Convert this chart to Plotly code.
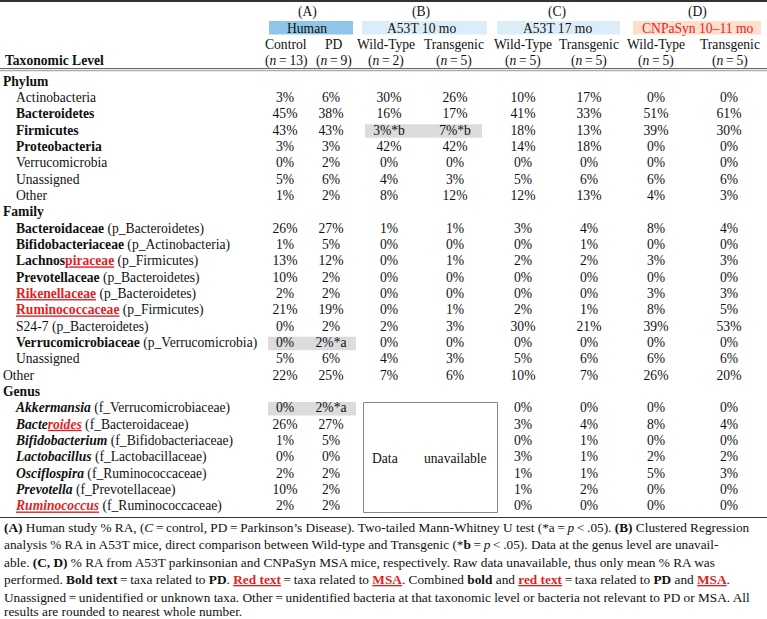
import plotly.graph_objects as go

# ---------------- data ----------------
group_tags = ["(A)", "(B)", "(C)", "(D)"]
group_names = ["Human", "A53T 10 mo", "A53T 17 mo", "CNPaSyn 10–11 mo"]
column_keys = ["control", "pd", "b_wt", "b_tg", "c_wt", "c_tg", "d_wt", "d_tg"]
column_names = ["Control", "PD", "Wild-Type", "Transgenic", "Wild-Type", "Transgenic", "Wild-Type", "Transgenic"]
column_n = [13, 9, 2, 5, 5, 5, 5, 5]

phylum_names = ["Actinobacteria", "Bacteroidetes", "Firmicutes", "Proteobacteria",
                "Verrucomicrobia", "Unassigned", "Other"]
phylum_control = [3, 45, 43, 3, 0, 5, 1]
phylum_pd = [6, 38, 43, 3, 2, 6, 2]
phylum_b_wt = [30, 16, 3, 42, 0, 4, 8]
phylum_b_tg = [26, 17, 7, 42, 0, 3, 12]
phylum_c_wt = [10, 41, 18, 14, 0, 5, 12]
phylum_c_tg = [17, 33, 13, 18, 0, 6, 13]
phylum_d_wt = [0, 51, 39, 0, 0, 6, 4]
phylum_d_tg = [0, 61, 30, 0, 0, 6, 3]

family_names = ["Bacteroidaceae", "Bifidobacteriaceae", "Lachnospiraceae", "Prevotellaceae",
                "Rikenellaceae", "Ruminococcaceae", "S24-7", "Verrucomicrobiaceae",
                "Unassigned", "Other"]
family_parents = ["p_Bacteroidetes", "p_Actinobacteria", "p_Firmicutes", "p_Bacteroidetes",
                  "p_Bacteroidetes", "p_Firmicutes", "p_Bacteroidetes", "p_Verrucomicrobia", "", ""]
family_control = [26, 1, 13, 10, 2, 21, 0, 0, 5, 22]
family_pd = [27, 5, 12, 2, 2, 19, 2, 2, 6, 25]
family_b_wt = [1, 0, 0, 0, 0, 0, 2, 0, 4, 7]
family_b_tg = [1, 0, 1, 0, 0, 1, 3, 0, 3, 6]
family_c_wt = [3, 0, 2, 0, 0, 2, 30, 0, 5, 10]
family_c_tg = [4, 1, 2, 0, 0, 1, 21, 0, 6, 7]
family_d_wt = [8, 0, 3, 0, 3, 8, 39, 0, 6, 26]
family_d_tg = [4, 0, 3, 0, 3, 5, 53, 0, 6, 20]

genus_names = ["Akkermansia", "Bacteroides", "Bifidobacterium", "Lactobacillus",
               "Osciflospira", "Prevotella", "Ruminococcus"]
genus_parents = ["f_Verrucomicrobiaceae", "f_Bacteroidaceae", "f_Bifidobacteriaceae",
                 "f_Lactobacillaceae", "f_Ruminococcaceae", "f_Prevotellaceae", "f_Ruminococcaceae"]
genus_control = [0, 26, 1, 0, 2, 10, 2]
genus_pd = [2, 27, 5, 0, 2, 2, 2]
genus_b_wt = [None] * 7
genus_b_tg = [None] * 7
genus_c_wt = [0, 3, 0, 3, 1, 1, 0]
genus_c_tg = [0, 4, 1, 1, 1, 2, 0]
genus_d_wt = [0, 8, 0, 2, 5, 0, 0]
genus_d_tg = [0, 4, 0, 2, 3, 0, 0]

# significance marks: (level, taxon, column, mark)
significance = [("Phylum", "Firmicutes", "b_wt", "*b"), ("Phylum", "Firmicutes", "b_tg", "*b"),
                ("Family", "Verrucomicrobiaceae", "pd", "*a"), ("Genus", "Akkermansia", "pd", "*a")]
# shaded comparisons: (level, taxon, columns)
shaded = [("Phylum", "Firmicutes", ["b_wt", "b_tg"]),
          ("Family", "Verrucomicrobiaceae", ["control", "pd"]),
          ("Genus", "Akkermansia", ["control", "pd"])]

pd_related = {"Bacteroidetes", "Firmicutes", "Proteobacteria", "Bacteroidaceae", "Bifidobacteriaceae",
              "Lachnospiraceae", "Prevotellaceae", "Rikenellaceae", "Ruminococcaceae",
              "Verrucomicrobiaceae", "Akkermansia", "Bacteroides", "Bifidobacterium", "Lactobacillus",
              "Osciflospira", "Prevotella", "Ruminococcus"}
# part of the name related to MSA (red)
msa_related = {"Lachnospiraceae": "piraceae", "Rikenellaceae": "Rikenellaceae",
               "Ruminococcaceae": "Ruminococcaceae", "Bacteroides": "roides",
               "Ruminococcus": "Ruminococcus"}

# ---------------- layout / styles ----------------
W, H = 767, 619
FONT = "Liberation Serif"
FS = 13.6
FS_FOOT = 13.3
RED = "#e31e24"
col_x = dict(zip(column_keys, [285, 331, 389, 455, 523, 589, 656, 729]))
head_x = dict(zip(column_keys, [286, 334, 386, 454, 523, 589, 656, 730]))
group_x = [307, 421, 557, 697]
band_x = [(269, 353), (362, 487), (497, 620), (633, 761)]
band_col = ["#8ec6e8", "#dcedfa", "#dcedfa", "#fddfca"]
band_txt = ["#111", "#111", "#111", "#e8232a"]
Y0, PITCH = 98.6, 16.34

levels = [
    ("Phylum", phylum_names, [""] * len(phylum_names),
     [phylum_control, phylum_pd, phylum_b_wt, phylum_b_tg, phylum_c_wt, phylum_c_tg, phylum_d_wt, phylum_d_tg]),
    ("Family", family_names, family_parents,
     [family_control, family_pd, family_b_wt, family_b_tg, family_c_wt, family_c_tg, family_d_wt, family_d_tg]),
    ("Genus", genus_names, genus_parents,
     [genus_control, genus_pd, genus_b_wt, genus_b_tg, genus_c_wt, genus_c_tg, genus_d_wt, genus_d_tg]),
]


def fmt_name(level, name):
    s = name
    if name in msa_related:
        part = msa_related[name]
        i = name.index(part)
        s = name[:i] + f"<span style='color:{RED}'><u>{part}</u></span>" + name[i + len(part):]
    if level == "Genus":
        s = f"<i>{s}</i>"
    if name in pd_related:
        s = f"<b>{s}</b>"
    return s


lab_x, lab_y, lab_t = [], [], []
val_x, val_y, val_t = [], [], []
row_y = {}
k = -1
for level, names, parents, cols in levels:
    lab_x.append(3); lab_y.append(Y0 + PITCH * k); lab_t.append(f"<b>{level}</b>")
    k += 1
    for i, name in enumerate(names):
        y = Y0 + PITCH * k
        row_y[(level, name)] = y
        indent = 3 if (level == "Family" and name == "Other") else 16
        t = fmt_name(level, name)
        if parents[i]:
            t += f" ({parents[i]})"
        lab_x.append(indent); lab_y.append(y); lab_t.append(t)
        for ck, vals in zip(column_keys, cols):
            v = vals[i]
            if v is None:
                continue
            txt = f"{v}%"
            for lv, tx, cc, mark in significance:
                if lv == level and tx == name and cc == ck:
                    txt += mark
            val_x.append(col_x[ck]); val_y.append(y); val_t.append(txt)
        k += 1

fig = go.Figure()
fig.add_trace(go.Scatter(x=lab_x, y=lab_y, text=lab_t, mode="text", textposition="middle right",
                         textfont=dict(family=FONT, size=FS, color="#111"), hoverinfo="skip",
                         showlegend=False, cliponaxis=False))
fig.add_trace(go.Scatter(x=val_x, y=val_y, text=val_t, mode="text", textposition="middle center",
                         textfont=dict(family=FONT, size=FS, color="#111"), hoverinfo="skip",
                         showlegend=False, cliponaxis=False))

shapes = []
# shaded cells
shade_extent = {"b_wt": (365, 0), "b_tg": (0, 482), "control": (268, 0), "pd": (0, 356)}
for level, name, cols in shaded:
    y = row_y[(level, name)]
    x0 = shade_extent[cols[0]][0]
    x1 = shade_extent[cols[-1]][1]
    shapes.append(dict(type="rect", xref="x", yref="y", x0=x0, x1=x1, y0=y - 7, y1=y + 6.5,
                       fillcolor="#dcdcdd", line=dict(width=0), layer="below"))
# group bands
for (x0, x1), c in zip(band_x, band_col):
    shapes.append(dict(type="rect", xref="x", yref="y", x0=x0, x1=x1, y0=21, y1=34.5,
                       fillcolor=c, line=dict(width=0), layer="below"))
# rules
shapes.append(dict(type="line", xref="x", yref="y", x0=0, x1=W, y0=1, y1=1, line=dict(color="#333", width=1.8)))
shapes.append(dict(type="line", xref="x", yref="y", x0=0, x1=W, y0=68.6, y1=68.6, line=dict(color="#555", width=1)))
shapes.append(dict(type="line", xref="x", yref="y", x0=0, x1=W, y0=70.6, y1=70.6, line=dict(color="#aaa", width=1.4)))
shapes.append(dict(type="line", xref="x", yref="y", x0=0, x1=W, y0=517.5, y1=517.5, line=dict(color="#333", width=1)))
# data unavailable box
shapes.append(dict(type="rect", xref="x", yref="y", x0=363.5, x1=497.5, y0=402.5, y1=512.5,
                   line=dict(color="#888", width=1), fillcolor="rgba(0,0,0,0)"))

ann = []


def A(x, y, t, anchor="center", color="#111", size=FS):
    ann.append(dict(x=x, y=y, xref="x", yref="y", text=t, showarrow=False, xanchor=anchor,
                    yanchor="middle", font=dict(family=FONT, size=size, color=color)))


for gx, tag in zip(group_x, group_tags):
    A(gx, 12, tag)
for gx, name, c in zip(group_x, group_names, band_txt):
    A(gx, 28, name, color=c)
for ck, nm, n in zip(column_keys, column_names, column_n):
    A(head_x[ck], 44, nm)
    A(head_x[ck], 60.5, f"(<i>n</i>\u2009=\u2009{n})")
A(3, 60.5, "<b>Taxonomic Level</b>", anchor="left")
gy = (row_y[("Genus", "Lactobacillus")])
A(385, gy, "Data")
A(455, gy, "unavailable")

red = lambda s: f"<b><span style='color:{RED}'><u>{s}</u></span></b>"
foot = [
    "<b>(A)</b> Human study % RA, (<i>C</i>\u2009=\u2009control, PD\u2009=\u2009Parkinson’s Disease). Two-tailed Mann-Whitney U test (*a\u2009=\u2009<i>p</i>\u2009&lt;\u2009.05). <b>(B)</b> Clustered Regression",
    "analysis % RA in A53T mice, direct comparison between Wild-type and Transgenic (*<b>b</b>\u2009=\u2009<i>p</i>\u2009&lt;\u2009.05). Data at the genus level are unavail-",
    "able. <b>(C, D)</b> % RA from A53T parkinsonian and CNPaSyn MSA mice, respectively. Raw data unavailable, thus only mean % RA was",
    "performed. <b>Bold text</b>\u2009=\u2009taxa related to <b>PD</b>. " + red("Red text") + "\u2009=\u2009taxa related to " + red("MSA")
    + ". Combined <b>bold</b> and " + red("red text") + "\u2009=\u2009taxa related to <b>PD</b> and " + red("MSA") + ".",
    "Unassigned\u2009=\u2009unidentified or unknown taxa. Other\u2009=\u2009unidentified bacteria at that taxonomic level or bacteria not relevant to PD or MSA. All",
    "results are rounded to nearest whole number.",
]
foot_y = [527, 544.6, 562.2, 579.6, 597, 611.8]
for t, y in zip(foot, foot_y):
    A(2, y, t, anchor="left", size=FS_FOOT)

fig.update_layout(
    width=W, height=H, margin=dict(l=0, r=0, t=0, b=0),
    paper_bgcolor="white", plot_bgcolor="white",
    xaxis=dict(range=[0, W], visible=False, fixedrange=True),
    yaxis=dict(range=[H, 0], visible=False, fixedrange=True),
    shapes=shapes, annotations=ann, showlegend=False,
)
fig.write_html("out.html", config={"displayModeBar": False},
               post_script="document.body.style.margin='0';document.body.style.overflow='hidden';")
